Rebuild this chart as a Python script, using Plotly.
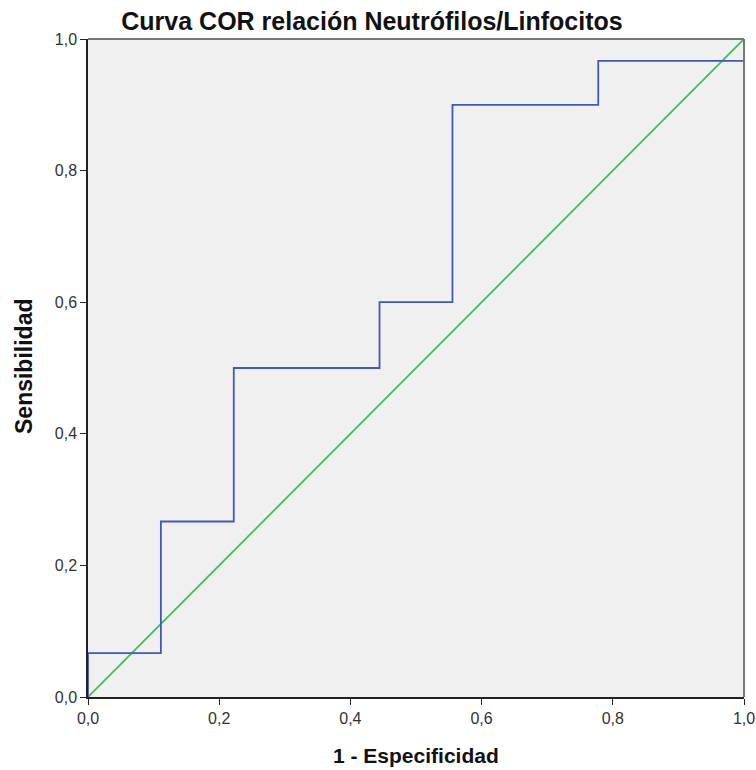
import plotly.graph_objects as go

# ROC step curve data
fpr = [0.0, 0.0, 0.1111, 0.1111, 0.2222, 0.2222, 0.4444, 0.4444, 0.5556, 0.5556, 0.7778, 0.7778, 1.0, 1.0]
tpr = [0.0, 0.0667, 0.0667, 0.2667, 0.2667, 0.5, 0.5, 0.6, 0.6, 0.9, 0.9, 0.9667, 0.9667, 1.0]
ref_x = [0.0, 1.0]
ref_y = [0.0, 1.0]
tick_vals = [0.0, 0.2, 0.4, 0.6, 0.8, 1.0]
tick_text = ["0,0", "0,2", "0,4", "0,6", "0,8", "1,0"]

W, H = 756, 770
L, R, T, B = 88, 744, 39, 697

fig = go.Figure()
fig.add_trace(go.Scatter(x=ref_x, y=ref_y, mode="lines",
                         line=dict(color="#3cc24e", width=1.8), showlegend=False))
fig.add_trace(go.Scatter(x=fpr, y=tpr, mode="lines",
                         line=dict(color="#4158b8", width=1.8), showlegend=False))

font = "Liberation Sans, Arial, sans-serif"
fig.update_layout(
    width=W, height=H,
    margin=dict(l=L, r=W - R, t=T, b=H - B, autoexpand=False),
    paper_bgcolor="white", plot_bgcolor="#f0f0f0",
    font=dict(family=font, size=16, color="#333"),
    title=dict(text="<b>Curva COR relación Neutrófilos/Linfocitos</b>",
               x=372 / W, xanchor="center", xref="container",
               y=1 - 21 / H, yanchor="middle", yref="container", automargin=False,
               font=dict(size=25, color="#111", family=font)),
    xaxis=dict(range=[0, 1], tickvals=tick_vals, ticktext=tick_text, automargin=False,
               showgrid=False, zeroline=False, ticks="outside", ticklen=6,
               tickcolor="#222", showline=True, linecolor="#222", linewidth=1.5,
               mirror=False, fixedrange=True),
    yaxis=dict(range=[0, 1], tickvals=tick_vals, ticktext=tick_text, automargin=False,
               showgrid=False, zeroline=False, ticks="outside", ticklen=6,
               tickcolor="#222", showline=True, linecolor="#222", linewidth=1.5,
               mirror=False, fixedrange=True),
)
fig.add_annotation(text="<b>1 - Especificidad</b>", xref="paper", yref="paper",
                   x=(416 - L) / (R - L), y=-(755 - B) / (B - T),
                   xanchor="center", yanchor="middle",
                   showarrow=False, font=dict(size=21, color="#111"))
fig.add_annotation(text="<b>Sensibilidad</b>", xref="paper", yref="paper",
                   x=-(L - 24) / (R - L), y=(B - 367) / (B - T),
                   xanchor="center", yanchor="middle", textangle=-90,
                   showarrow=False, font=dict(size=23, color="#111"))
# grey top/right frame
fig.add_shape(type="line", xref="paper", yref="paper", x0=0, x1=1, y0=1, y1=1,
              line=dict(color="#777", width=2))
fig.add_shape(type="line", xref="paper", yref="paper", x0=1, x1=1, y0=0, y1=1,
              line=dict(color="#777", width=2))
fig.write_html("out.html", config={"displayModeBar": False},
               post_script="document.body.style.margin='0';document.body.style.overflow='hidden';")
